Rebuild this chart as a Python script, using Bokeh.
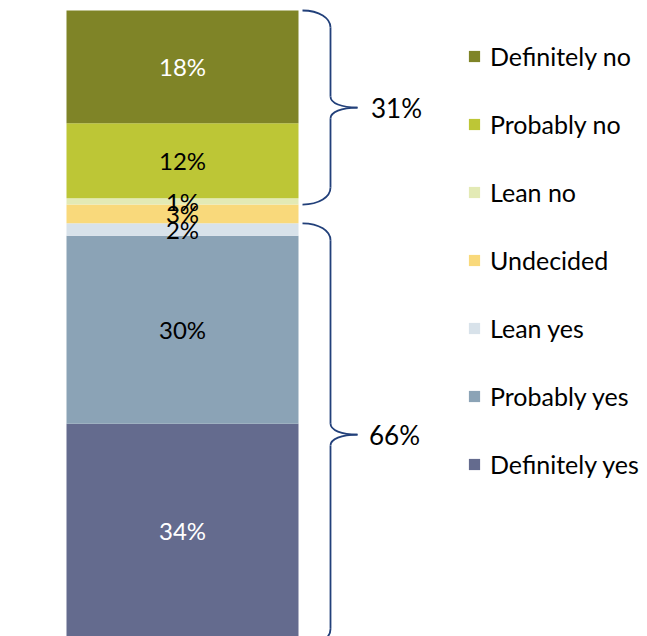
from bokeh.plotting import figure
from bokeh.models import Range1d, Legend, LegendItem, ColumnDataSource
from bokeh.core.properties import value
from bokeh.embed import file_html
from bokeh.resources import INLINE

# ---- data ----
categories = ["Definitely yes", "Probably yes", "Lean yes", "Undecided",
              "Lean no", "Probably no", "Definitely no"]
values = [34, 30, 2, 3, 1, 12, 18]
colors = ["#646B8E", "#8BA3B6", "#D8E2EA", "#F9D97B", "#E3EAB5", "#BDC636", "#7F8427"]
label_colors = ["white", "black", "black", "black", "black", "black", "white"]
yes_groups = ["Definitely yes", "Probably yes", "Lean yes"]
no_groups = ["Lean no", "Probably no", "Definitely no"]

FONT = "Lato"
W, H = 647, 636
PX_PER_PCT = 6.26  # vertical scale (layout)

p = figure(width=W, height=H, output_backend="svg", toolbar_location=None,
           x_range=Range1d(0, W), y_range=Range1d(0, H / PX_PER_PCT),
           min_border=0)
p.axis.visible = False
p.grid.visible = False
p.outline_line_color = None
p.background_fill_color = "white"

BAR_X = 182
BAR_W = 232

bottoms, tops = [], []
acc = 0
for v in values:
    bottoms.append(acc)
    acc += v
    tops.append(acc)

renderers = {}
for cat, b, t, c in zip(categories, bottoms, tops, colors):
    r = p.vbar(x=BAR_X, width=BAR_W, bottom=b, top=t, fill_color=c, line_color=None)
    renderers[cat] = r

src = ColumnDataSource(dict(
    x=[BAR_X] * len(values),
    y=[(b + t) / 2 for b, t in zip(bottoms, tops)],
    text=[f"{v}%" for v in values],
    color=label_colors,
))
p.text(x="x", y="y", text="text", text_color="color", source=src,
       text_align="center", text_baseline="middle",
       text_font=value(FONT), text_font_size="24px")

# ---- braces ----
idx = {c: i for i, c in enumerate(categories)}
def brace(lo, hi):
    x0, x1, x2 = 302, 330, 357
    r_end = 17 / PX_PER_PCT
    r_mid = 11 / PX_PER_PCT
    mid = (lo + hi) / 2
    bz = dict(x0=[], y0=[], x1=[], y1=[], cx0=[], cy0=[], cx1=[], cy1=[])
    def add(a, b, ca, cb):
        bz["x0"].append(a[0]); bz["y0"].append(a[1])
        bz["x1"].append(b[0]); bz["y1"].append(b[1])
        bz["cx0"].append(ca[0]); bz["cy0"].append(ca[1])
        bz["cx1"].append(cb[0]); bz["cy1"].append(cb[1])
    add((x0, hi), (x1, hi - r_end), (x0 + (x1 - x0) * 0.6, hi), (x1, hi - r_end * 0.45))
    add((x1, mid + r_mid), (x2, mid), (x1, mid + r_mid * 0.4), (x1 + (x2 - x1) * 0.4, mid))
    add((x1, mid - r_mid), (x2, mid), (x1, mid - r_mid * 0.4), (x1 + (x2 - x1) * 0.4, mid))
    add((x0, lo), (x1, lo + r_end), (x0 + (x1 - x0) * 0.6, lo), (x1, lo + r_end * 0.45))
    p.bezier(source=ColumnDataSource(bz), x0="x0", y0="y0", x1="x1", y1="y1",
             cx0="cx0", cy0="cy0", cx1="cx1", cy1="cy1",
             line_color="#22407A", line_width=1.8)
    p.segment(x0=[x1, x1], y0=[hi - r_end, mid - r_mid], x1=[x1, x1], y1=[mid + r_mid, lo + r_end],
              line_color="#22407A", line_width=1.8)
    return mid

no_lo = bottoms[idx[no_groups[0]]]
no_hi = tops[idx[no_groups[-1]]]
yes_lo = bottoms[idx[yes_groups[0]]]
yes_hi = tops[idx[yes_groups[-1]]]
no_sum = sum(values[idx[c]] for c in no_groups)
yes_sum = sum(values[idx[c]] for c in yes_groups)

m_no = brace(no_lo, no_hi)
m_yes = brace(yes_lo - 1.5, yes_hi)

p.text(x=[396, 394], y=[m_no, m_yes], text=[f"{no_sum}%", f"{yes_sum}%"],
       text_color="black", text_align="center", text_baseline="middle",
       text_font=value(FONT), text_font_size="26px")

# ---- legend ----
items = [LegendItem(label=c, renderers=[renderers[c]]) for c in reversed(categories)]
legend = Legend(items=items, location=(467, 157), orientation="vertical",
                glyph_width=14, glyph_height=14, label_height=30,
                spacing=38, padding=0, margin=0, label_standoff=9,
                label_text_font=FONT, label_text_font_size="25px",
                label_text_color="black",
                border_line_color=None, background_fill_alpha=0)
p.add_layout(legend)

open("out.html", "w").write(file_html(p, INLINE))
